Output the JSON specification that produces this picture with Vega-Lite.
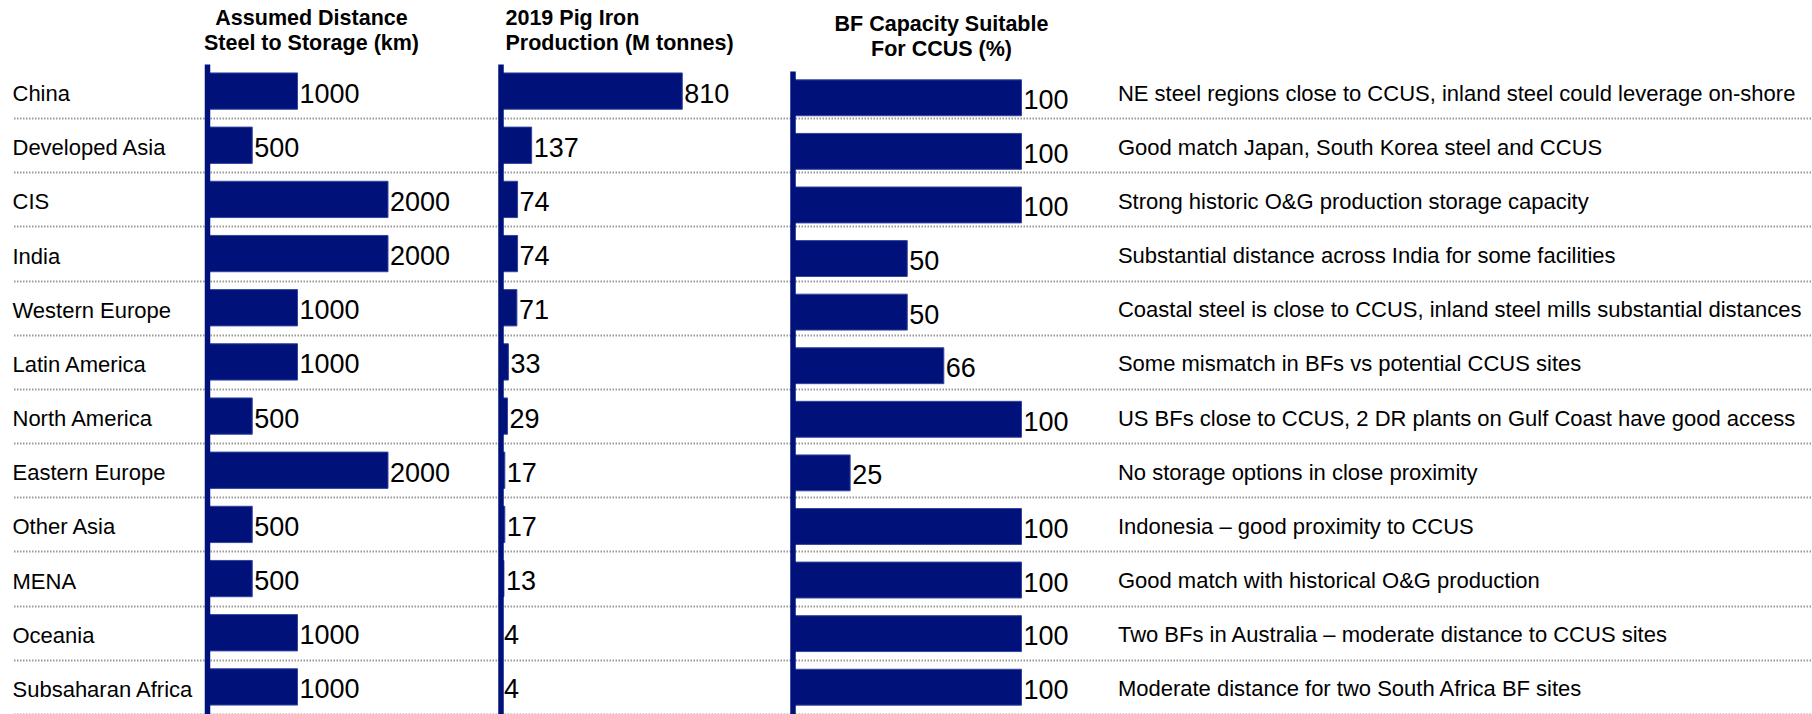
{
  "$schema": "https://vega.github.io/schema/vega-lite/v6.json",
  "width": 1605,
  "height": 650,
  "autosize": {"type": "none"},
  "padding": {"left": 207, "top": 64, "right": 0, "bottom": 0},
  "background": "#ffffff",
  "config": {
    "view": {"stroke": null},
    "font": "Liberation Sans",
    "axis": {"titleFont": "Liberation Sans", "titleFontSize": 21.5, "titleFontWeight": "bold", "titleColor": "#000000", "titleLineHeight": 25},
    "text": {"font": "Liberation Sans"}
  },
  "data": {
    "values": [
      {"region": "China", "dist": 1000, "pig": 810, "bf": 100, "note": "NE steel regions close to CCUS, inland steel could leverage on-shore"},
      {"region": "Developed Asia", "dist": 500, "pig": 137, "bf": 100, "note": "Good match Japan, South Korea steel and CCUS"},
      {"region": "CIS", "dist": 2000, "pig": 74, "bf": 100, "note": "Strong historic O&G production storage capacity"},
      {"region": "India", "dist": 2000, "pig": 74, "bf": 50, "note": "Substantial distance across India for some facilities"},
      {"region": "Western Europe", "dist": 1000, "pig": 71, "bf": 50, "note": "Coastal steel is close to CCUS, inland steel mills substantial distances"},
      {"region": "Latin America", "dist": 1000, "pig": 33, "bf": 66, "note": "Some mismatch in BFs vs potential CCUS sites"},
      {"region": "North America", "dist": 500, "pig": 29, "bf": 100, "note": "US BFs close to CCUS, 2 DR plants on Gulf Coast have good access"},
      {"region": "Eastern Europe", "dist": 2000, "pig": 17, "bf": 25, "note": "No storage options in close proximity"},
      {"region": "Other Asia", "dist": 500, "pig": 17, "bf": 100, "note": "Indonesia – good proximity to CCUS"},
      {"region": "MENA", "dist": 500, "pig": 13, "bf": 100, "note": "Good match with historical O&G production"},
      {"region": "Oceania", "dist": 1000, "pig": 4, "bf": 100, "note": "Two BFs in Australia – moderate distance to CCUS sites"},
      {"region": "Subsaharan Africa", "dist": 1000, "pig": 4, "bf": 100, "note": "Moderate distance for two South Africa BF sites"}
    ]
  },
  "layer": [
    {
      "encoding": {
        "x": {"field": "dist", "type": "quantitative",
          "scale": {"domain": [0, 17735], "nice": false, "zero": true},
          "axis": {"orient": "top", "domain": false, "ticks": false, "labels": false, "grid": false,
            "title": ["Assumed Distance", "Steel to Storage (km)"],
            "titleX": 104, "titleY": -39.5, "titleAlign": "center", "titleBaseline": "alphabetic"}},
        "y": {"field": "region", "type": "nominal", "sort": null,
          "scale": {"type": "band", "paddingInner": 0.33, "paddingOuter": 0.165},
          "axis": {"orient": "left", "title": null, "bandPosition": 0.5,
            "domain": true, "domainColor": "#00127A", "domainWidth": 5.5,
            "ticks": true, "tickSize": 195, "tickOffset": 27.08, "tickColor": "#999999", "tickWidth": 2, "tickDash": [1.5, 1.5],
            "grid": true, "gridColor": "#999999", "gridWidth": 2, "gridDash": [1.5, 1.5],
            "labelOffset": -24.6, "labelPadding": 0, "labelAlign": "left", "labelBaseline": "middle",
            "labelFontSize": 22, "labelColor": "#000000", "labelLimit": 0, "labelFont": "Liberation Sans", "zindex": 1}}
      },
      "layer": [
        {"mark": {"type": "bar", "color": "#00127A", "stroke": "#3345A0", "strokeWidth": 1}},
        {"mark": {"type": "text", "align": "left", "baseline": "middle", "dx": 2, "dy": 3.5, "fontSize": 27, "color": "#000000"},
         "encoding": {"text": {"field": "dist", "type": "quantitative", "format": "d"}}}
      ]
    },
    {
      "encoding": {
        "x": {"field": "pig", "type": "quantitative",
          "scale": {"domain": [-1313.7, 5857.9], "nice": false, "zero": true},
          "axis": {"orient": "top", "domain": false, "ticks": false, "labels": false, "grid": false,
            "title": ["2019 Pig Iron", "Production (M tonnes)"],
            "titleX": 298, "titleY": -39.5, "titleAlign": "left", "titleBaseline": "alphabetic"}},
        "y": {"field": "region", "type": "nominal", "sort": null,
          "scale": {"type": "band", "paddingInner": 0.33, "paddingOuter": 0.165},
          "axis": {"orient": "left", "title": null, "offset": -293.5,
            "domain": true, "domainColor": "#00127A", "domainWidth": 5.5,
            "ticks": false, "labels": false, "grid": false, "zindex": 1}}
      },
      "layer": [
        {"mark": {"type": "bar", "color": "#00127A", "stroke": "#3345A0", "strokeWidth": 1}},
        {"mark": {"type": "text", "align": "left", "baseline": "middle", "dx": 2, "dy": 3.5, "fontSize": 27, "color": "#000000"},
         "encoding": {"text": {"field": "pig", "type": "quantitative", "format": "d"}}}
      ]
    },
    {
      "encoding": {
        "x": {"field": "bf", "type": "quantitative",
          "scale": {"domain": [-256.5, 446], "nice": false, "zero": true},
          "axis": {"orient": "top", "domain": false, "ticks": false, "labels": false, "grid": false,
            "title": ["BF Capacity Suitable", "For CCUS (%)"],
            "titleX": 734, "titleY": -33.5, "titleAlign": "center", "titleBaseline": "alphabetic"}},
        "y": {"field": "region", "type": "nominal", "sort": null,
          "scale": {"type": "band", "paddingInner": 0.33, "paddingOuter": 0.165, "range": [7, 650]},
          "axis": {"orient": "left", "title": null, "offset": -585.5,
            "domain": true, "domainColor": "#00127A", "domainWidth": 5.5,
            "ticks": false, "labels": false, "grid": false, "zindex": 1}}
      },
      "layer": [
        {"mark": {"type": "bar", "color": "#00127A", "stroke": "#3345A0", "strokeWidth": 1}},
        {"mark": {"type": "text", "align": "left", "baseline": "middle", "dx": 2, "dy": 3.5, "fontSize": 27, "color": "#000000"},
         "encoding": {"text": {"field": "bf", "type": "quantitative", "format": "d"}}}
      ]
    },
    {
      "mark": {"type": "text", "align": "left", "baseline": "middle", "dy": 2.5, "fontSize": 22, "color": "#000000"},
      "encoding": {
        "x": {"datum": 142.2, "type": "quantitative", "scale": {"domain": [-256.5, 446], "nice": false, "zero": false}, "axis": null},
        "y": {"field": "region", "type": "nominal", "sort": null, "axis": null},
        "text": {"field": "note", "type": "nominal"}
      }
    }
  ],
  "resolve": {
    "scale": {"x": "independent", "y": "independent"},
    "axis": {"x": "independent", "y": "independent"}
  }
}
